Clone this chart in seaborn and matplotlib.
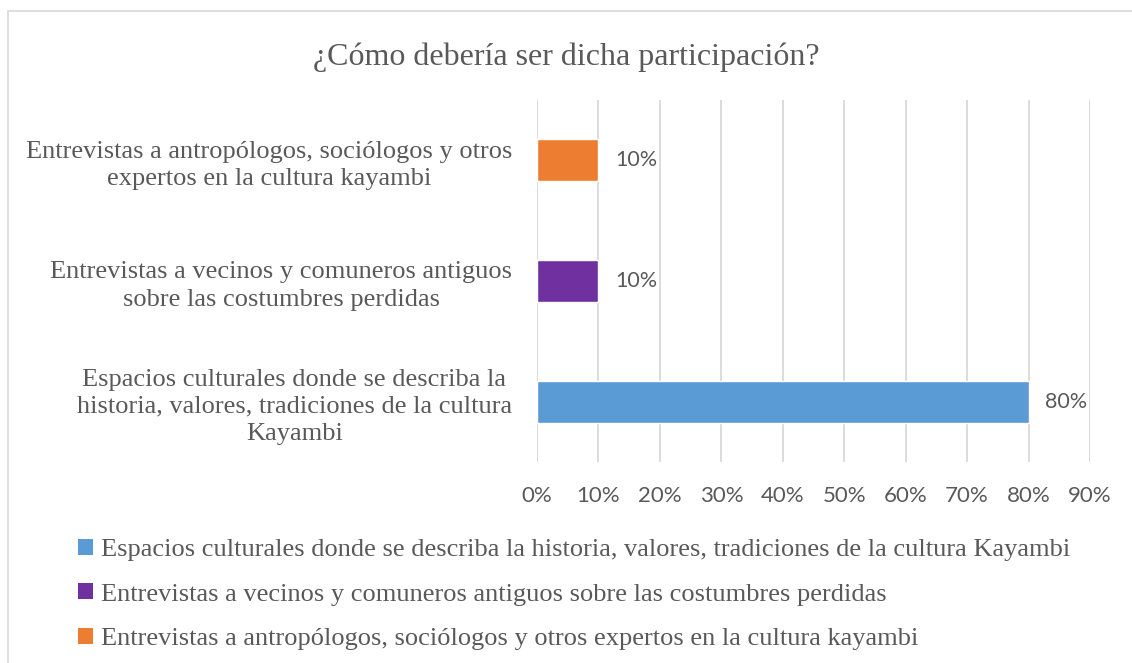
import pandas as pd
import numpy as np
import matplotlib.pyplot as plt
import seaborn as sns
from matplotlib.patches import Rectangle, Patch
from matplotlib.ticker import PercentFormatter

# ---------- Data ----------
categories = [
    "Espacios culturales donde se describa la historia, valores, tradiciones de la cultura Kayambi",
    "Entrevistas a vecinos y comuneros antiguos sobre las costumbres perdidas",
    "Entrevistas a antropólogos, sociólogos y otros expertos en la cultura kayambi",
]
wrapped_labels = [
    "Espacios culturales donde se describa la\nhistoria, valores, tradiciones de la cultura\nKayambi",
    "Entrevistas a vecinos y comuneros antiguos\nsobre las costumbres perdidas",
    "Entrevistas a antropólogos, sociólogos y otros\nexpertos en la cultura kayambi",
]
values = [0.80, 0.10, 0.10]
colors = ["#5B9BD5", "#7030A0", "#ED7D31"]
x_ticks = [0, 0.1, 0.2, 0.3, 0.4, 0.5, 0.6, 0.7, 0.8, 0.9]
title = "¿Cómo debería ser dicha participación?"

text_color = "#595959"
serif = ["Liberation Serif", "DejaVu Serif"]
sans = ["Lato", "DejaVu Sans"]

# top-to-bottom order in the chart is reversed from the legend order
df = pd.DataFrame({"label": wrapped_labels, "value": values, "color": colors})
df = df.iloc[::-1].reset_index(drop=True)

sns.set_style("white")
fig = plt.figure(figsize=(11.32, 6.63), dpi=100)
ax = fig.add_axes([0.4744, 0.3032, 0.4885, 0.546])

sns.barplot(data=df, y="label", x="value", hue="label", palette=list(df["color"]),
            order=list(df["label"]), orient="h", width=0.35, legend=False,
            saturation=1, ax=ax)

ax.set_xlim(0, 0.9)
ax.set_xticks(x_ticks)
ax.xaxis.set_major_formatter(PercentFormatter(1.0, decimals=0))
ax.grid(axis="x", color="#d9d9d9", linewidth=1.3)
ax.set_axisbelow(True)
for s in ax.spines.values():
    s.set_visible(False)
ax.set_xlabel("")
ax.set_ylabel("")
ax.tick_params(axis="x", length=0, pad=17, labelsize=16, labelcolor=text_color)
ax.tick_params(axis="y", length=0, pad=18, labelsize=19, labelcolor=text_color)
for lbl in ax.get_xticklabels():
    lbl.set_family(sans)
for lbl in ax.get_yticklabels():
    lbl.set_family(serif)
    lbl.set_multialignment("center")
    lbl.set_linespacing(1.3)

# data labels
for i, v in enumerate(df["value"]):
    ax.text(v + 0.027, i, f"{v:.0%}", va="center", ha="left",
            fontsize=15.5, color=text_color, family=sans)

fig.text(0.5, 0.913, title, ha="center", va="center", fontsize=23,
         color=text_color, family=serif)

# legend
handles = [Patch(facecolor=c, edgecolor="none") for c in colors]
leg = fig.legend(handles, categories, loc="upper left", bbox_to_anchor=(0.069, 0.187),
                 frameon=False, handlelength=0.55, handleheight=0.55, handletextpad=0.3,
                 labelspacing=0.84, prop={"family": serif, "size": 19},
                 borderaxespad=0, borderpad=0)
for t in leg.get_texts():
    t.set_color(text_color)

# chart border
fig.patches.append(Rectangle((8 / 1132, -0.01), 1.0, 1 - 11 / 663 + 0.01,
                             transform=fig.transFigure, fill=False,
                             edgecolor="#d9d9d9", linewidth=1.2))

fig.savefig("out.png", dpi=100)
